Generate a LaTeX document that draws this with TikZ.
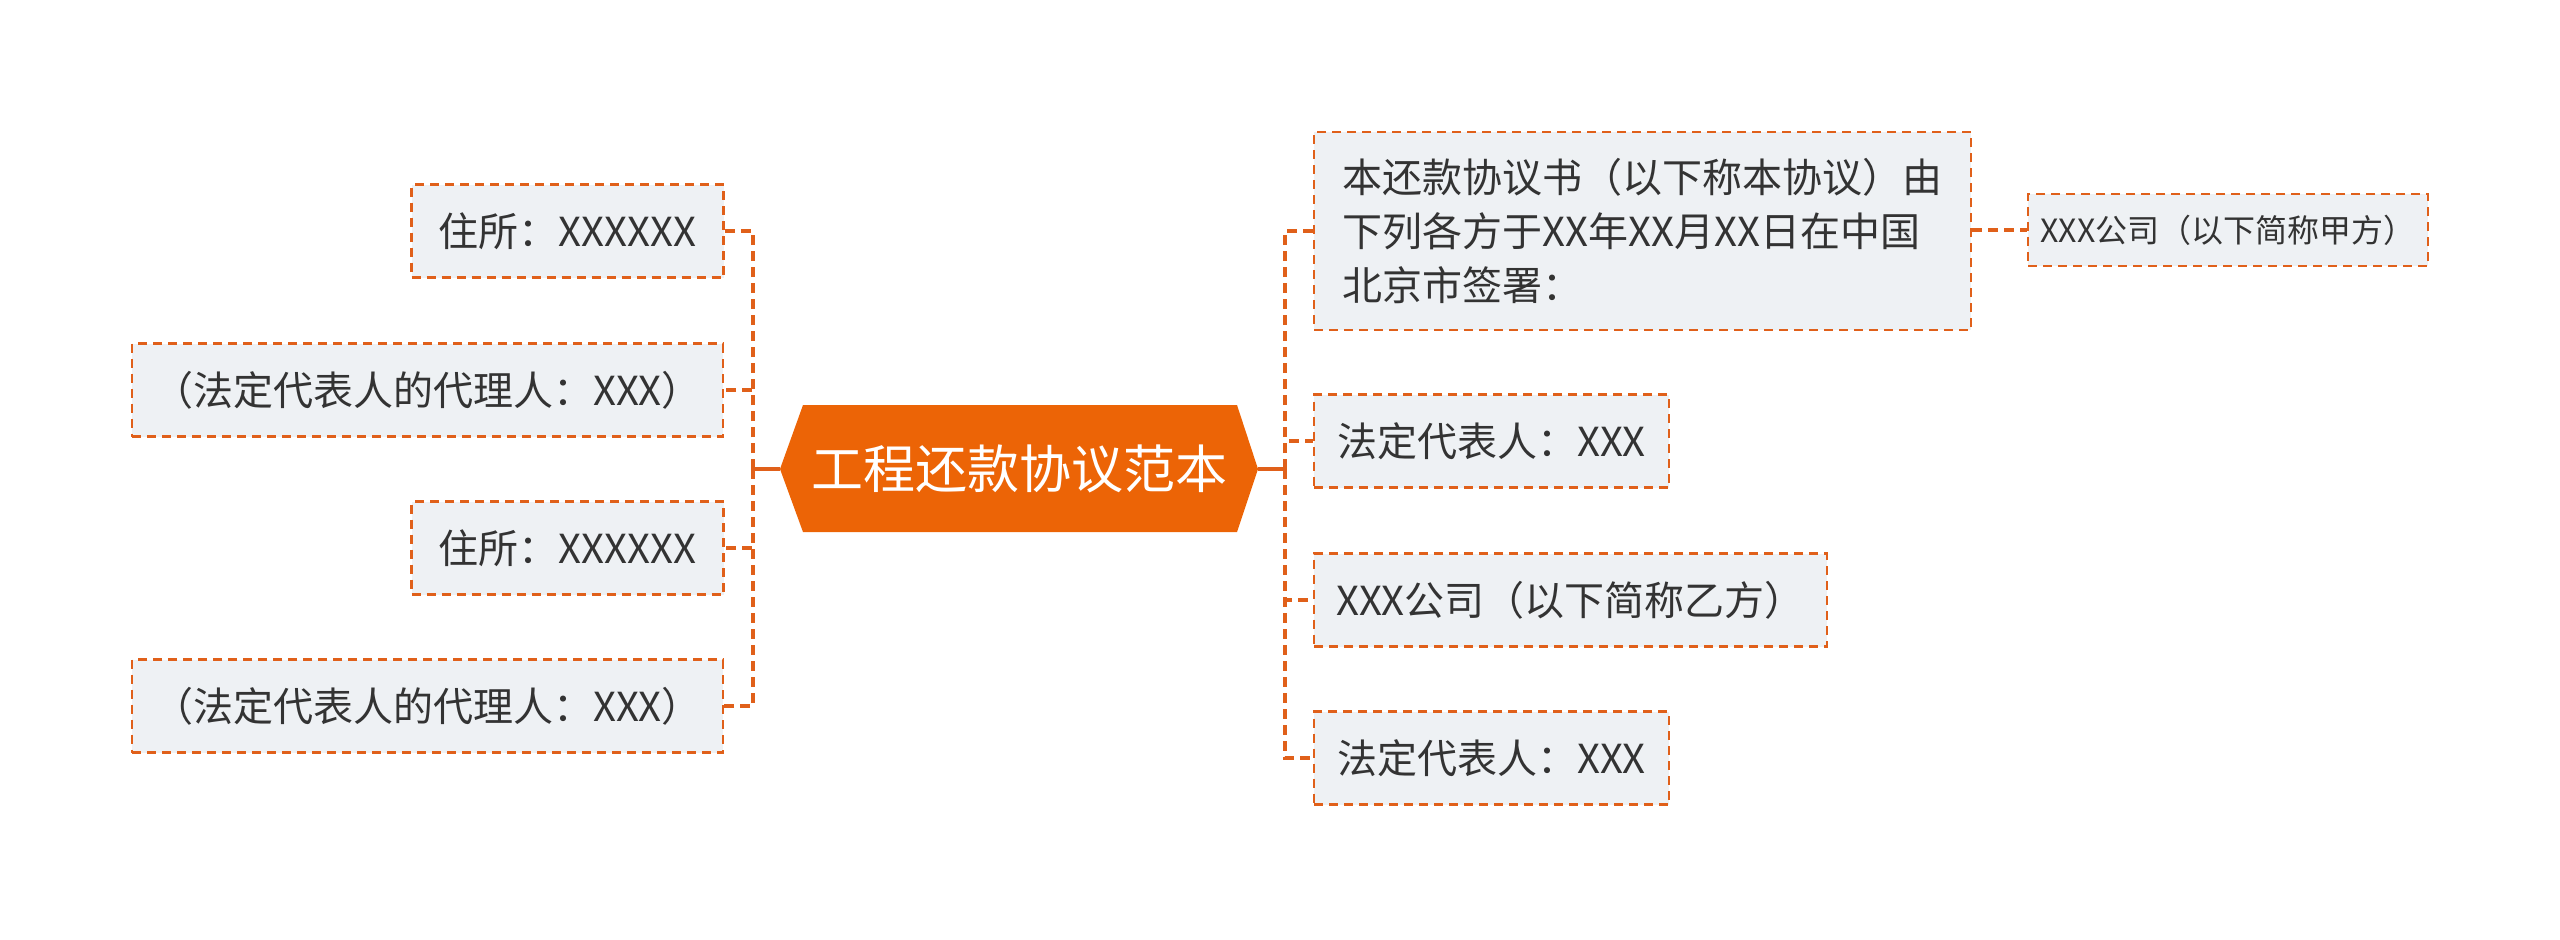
\documentclass[tikz,border=0pt]{standalone}
\usepackage{fontspec}
\setmainfont{Noto Sans CJK SC}
\definecolor{orgline}{HTML}{E0601A}
\definecolor{orgfill}{HTML}{EC6406}
\definecolor{boxfill}{HTML}{EEF1F4}
\definecolor{txt}{HTML}{333333}
\begin{document}
\begin{tikzpicture}[x=0.5pt,y=-0.5pt,
  leaf/.style={draw=orgline, dash pattern=on 4.5pt off 3pt, line width=1.3pt,
    fill=boxfill, text=txt, font=\fontsize{20pt}{27pt}\selectfont,
    inner sep=0pt, minimum height=46.5pt},
  conn/.style={draw=orgline, line width=2pt, dash pattern=on 5pt off 3pt},
  solidconn/.style={draw=orgline, line width=2pt}]
\useasboundingbox (0,0) rectangle (2560,939);
% central hexagon
\coordinate (hl) at (780,469);
\coordinate (hr) at (1258,469);
\fill[orgfill] (hl) -- (803,405) -- (1237,405) -- (hr) -- (1237,532) -- (803,532) -- cycle;
\node[text=white, font=\fontsize{26pt}{30pt}\selectfont] (root) at (1019,469) {工程还款协议范本};
% left leaves
\node[leaf, minimum width=156pt] (L1) at (567.5,231) {住所：XXXXXX};
\node[leaf, minimum width=295.5pt] (L2) at (427.5,390) {（法定代表人的代理人：XXX）};
\node[leaf, minimum width=156pt] (L3) at (567.5,548) {住所：XXXXXX};
\node[leaf, minimum width=295.5pt] (L4) at (427.5,706) {（法定代表人的代理人：XXX）};
% right leaves
\node[leaf, minimum width=328.5pt, minimum height=99pt, align=left] (R1) at (1642.5,231)
  {本还款协议书（以下称本协议）由\\下列各方于XX年XX月XX日在中国\\北京市签署：};
\node[leaf, minimum width=177.5pt] (R2) at (1491.5,441) {法定代表人：XXX};
\node[leaf, minimum width=256.5pt] (R3) at (1570.5,600) {XXX公司（以下简称乙方）};
\node[leaf, minimum width=177.5pt] (R4) at (1491.5,758) {法定代表人：XXX};
\node[leaf, minimum width=200pt, minimum height=36pt, font=\fontsize{16pt}{20pt}\selectfont] (R5) at (2228,230) {XXX公司（以下简称甲方）};
% trunks
\coordinate (tl) at (753,469);
\coordinate (tr) at (1285,469);
\draw[solidconn] (hl) -- (tl);
\draw[solidconn] (hr) -- (tr);
\foreach \n in {L1,L2,L3,L4} \draw[conn] (tl) |- (\n.east);
\foreach \n in {R1,R2,R3,R4} \draw[conn] (tr) |- (\n.west);
\draw[conn] (R1.east |- R5.west) -- (R5.west);
\end{tikzpicture}
\end{document}
